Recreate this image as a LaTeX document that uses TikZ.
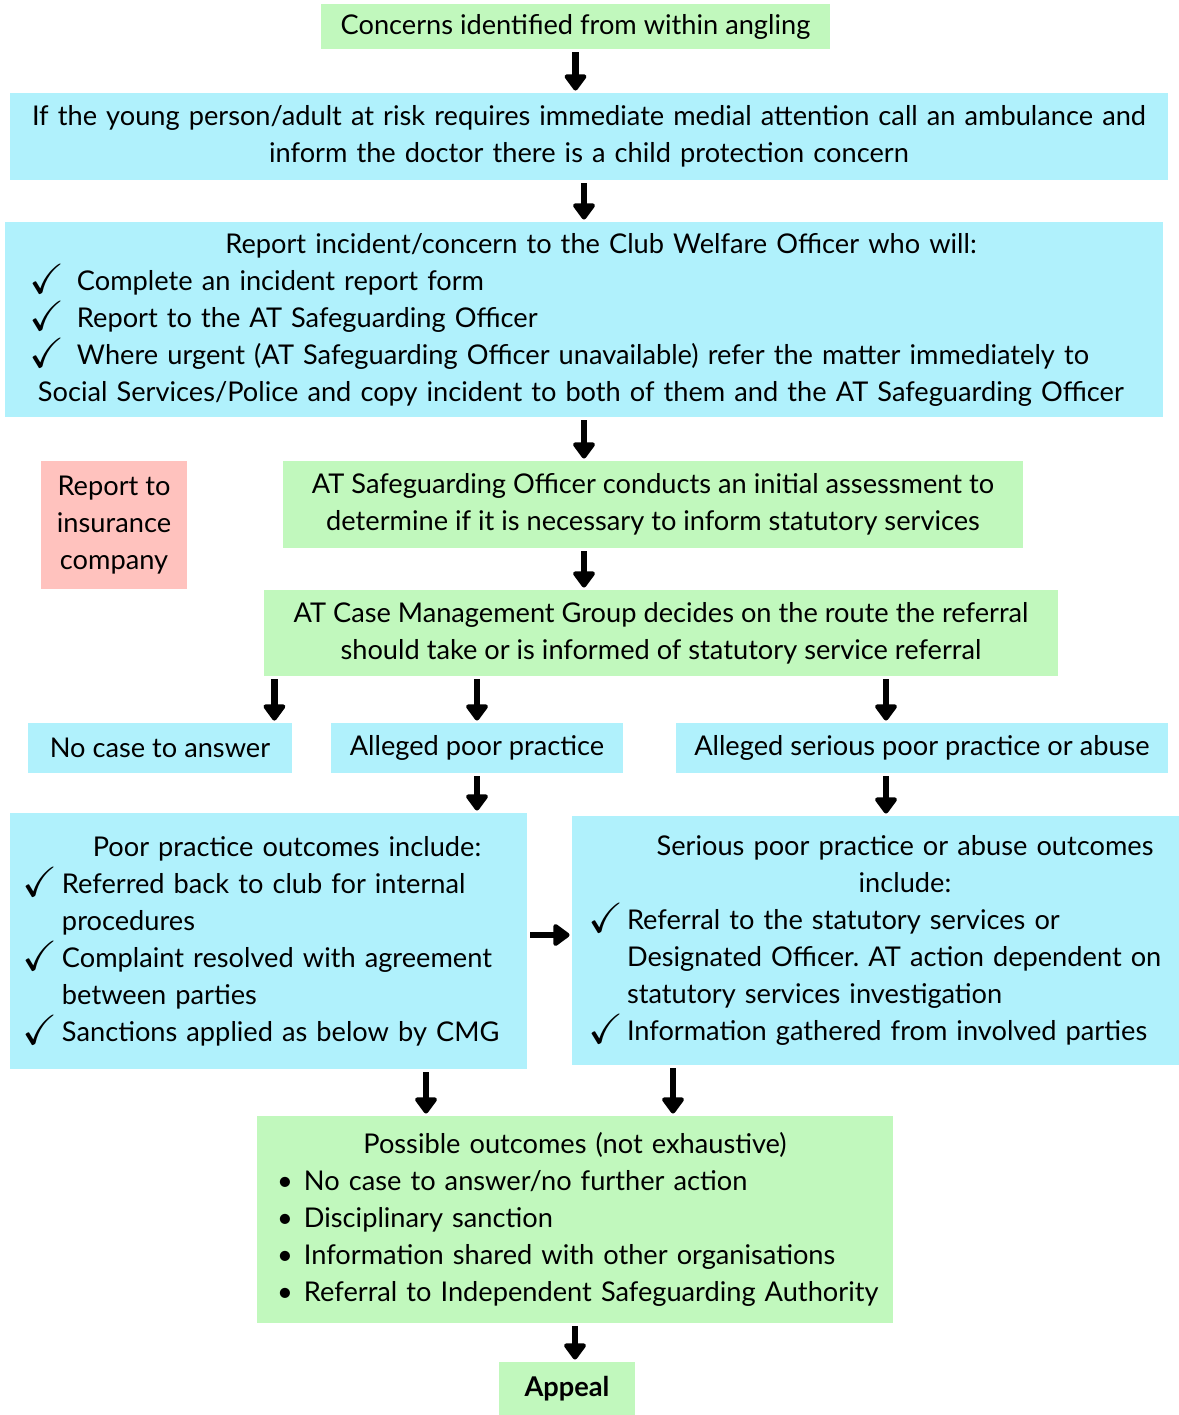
\documentclass[tikz,border=0pt]{standalone}
\usepackage{fontspec}
\setmainfont{Lato}
\usepackage{amssymb}
\usepackage{graphicx}
\usepackage{tikz}
\usetikzlibrary{arrows.meta,positioning}
\definecolor{sggreen}{RGB}{193,248,189}
\definecolor{sgblue}{RGB}{176,241,252}
\definecolor{sgpink}{RGB}{255,194,190}
\tikzstyle{arrow} = [line width=3.2pt,-{Triangle[width=12.5pt,length=9pt,round]},shorten <=1.5pt,shorten >=1pt]
\tikzstyle{greenbox} = [rectangle, inner sep=0pt, fill=sggreen, text centered]
\tikzstyle{bluebox} = [rectangle, inner sep=0pt, fill=sgblue, text centered]
\tikzstyle{pinkbox} = [rectangle, inner sep=0pt, fill=sgpink, text centered]
\newcommand{\ticked}[1][20pt]{\makebox[#1][l]{\raisebox{-1.5pt}{\smash{\scalebox{1.55}{$\checkmark$}}}}}
\newcommand{\bulleted}{\makebox[19.5pt][l]{\hspace*{6pt}\textbullet}}
\frenchspacing
\hyphenpenalty=10000

\begin{document}
\begin{tikzpicture}[x=0.5pt, y=-0.5pt, font=\fontsize{13.6}{18.5}\selectfont]
\useasboundingbox (0,0) rectangle (1179,1415);

% Reporting chain
\node[greenbox, minimum width=254.5pt, minimum height=22.5pt] (concerns) at (575.5,26.5) {Concerns identified from within angling};
\node[bluebox, minimum width=579pt, minimum height=43.5pt, text width=577pt] (ambulance) at (589,136.5) {If the young person/adult at risk requires immediate medial attention call an ambulance and\\ inform the doctor there is a child protection concern};
\node[bluebox, minimum width=579pt, minimum height=97.5pt, text width=554pt, align=left] (report) at (584,319.5) {\makebox[554pt][c]{\hspace*{17pt}Report incident/concern to the Club Welfare Officer who will:}\\
\ticked[23.5pt]Complete an incident report form\\
\ticked[23.5pt]Report to the AT Safeguarding Officer\\
\ticked[23.5pt]Where urgent (AT Safeguarding Officer unavailable) refer the matter immediately to\\
\hspace*{4pt}Social Services/Police and copy incident to both of them and the AT Safeguarding Officer};

% Assessment
\node[pinkbox, minimum width=73pt, minimum height=64pt, align=center] (insurance) at (114,525) {Report to\\ insurance\\ company};
\node[greenbox, minimum width=370pt, minimum height=43.5pt, align=center] (assess) at (653,504.5) {AT Safeguarding Officer conducts an initial assessment to\\ determine if it is necessary to inform statutory services};
\node[greenbox, minimum width=397pt, minimum height=43pt, align=center] (cmg) at (661,633) {AT Case Management Group decides on the route the referral\\ should take or is informed of statutory service referral};

% Routes
\node[bluebox, minimum width=132pt, minimum height=25pt] (nocase) at (160,748) {No case to answer};
\node[bluebox, minimum width=146pt, minimum height=25pt] (poor) at (477,748) {Alleged poor practice};
\node[bluebox, minimum width=246pt, minimum height=25pt] (serious) at (922,748) {Alleged serious poor practice or abuse};

% Outcomes
\node[bluebox, minimum width=258.5pt, minimum height=128pt, text width=246.5pt, align=left] (poorout) at (268.5,941) {\makebox[246.5pt][c]{\hspace*{18.5pt}Poor practice outcomes include:}\\
\ticked Referred back to club for internal\\
\hspace*{20pt}procedures\\
\ticked Complaint resolved with agreement\\
\hspace*{20pt}between parties\\
\ticked Sanctions applied as below by CMG};
\node[bluebox, minimum width=303.5pt, minimum height=124.5pt, text width=287.5pt, align=left] (seriousout) at (875.5,940.5) {\makebox[287.5pt][c]{\hspace*{29.5pt}Serious poor practice or abuse outcomes}\\
\makebox[287.5pt][c]{\hspace*{29.5pt}include:}\\
\ticked[19.5pt]Referral to the statutory services or\\
\hspace*{19.5pt}Designated Officer. AT action dependent on\\
\hspace*{19.5pt}statutory services investigation\\
\ticked[19.5pt]Information gathered from involved parties};
\node[greenbox, minimum width=318pt, minimum height=103.5pt, text width=310pt, align=left] (outcomes) at (575,1219.5) {\makebox[310pt][c]{Possible outcomes (not exhaustive)}\\
\bulleted No case to answer/no further action\\
\bulleted Disciplinary sanction\\
\bulleted Information shared with other organisations\\
\bulleted Referral to Independent Safeguarding Authority};
\node[greenbox, minimum width=68pt, minimum height=26.5pt] (appeal) at (567,1388.5) {\bfseries Appeal};

% Arrows
\draw[arrow] (concerns.south) -- (concerns.south |- ambulance.north);
\draw[arrow] (ambulance.south -| report.north) -- (report.north);
\draw[arrow] (report.south) -- (report.south |- assess.north);
\draw[arrow] (assess.south -| report.south) -- (cmg.north -| report.south);
\draw[arrow] ([xshift=-9pt]nocase.north east |- cmg.south) -- ([xshift=-9pt]nocase.north east);
\draw[arrow] (poor.north |- cmg.south) -- (poor.north);
\draw[arrow] ([xshift=-18pt]serious.north |- cmg.south) -- ([xshift=-18pt]serious.north);
\draw[arrow] (poor.south) -- (poor.south |- poorout.north);
\draw[arrow] ([xshift=-18pt]serious.south) -- ([xshift=-18pt]serious.south |- seriousout.north);
\draw[arrow] ([yshift=3pt]poorout.east) -- ([yshift=3pt]poorout.east -| seriousout.west);
\draw[arrow] ([xshift=-74.5pt]outcomes.north |- poorout.south) -- ([xshift=-74.5pt]outcomes.north);
\draw[arrow] ([xshift=49pt]outcomes.north |- seriousout.south) -- ([xshift=49pt]outcomes.north);
\draw[arrow] (outcomes.south) -- (outcomes.south |- appeal.north);
\end{tikzpicture}
\end{document}
